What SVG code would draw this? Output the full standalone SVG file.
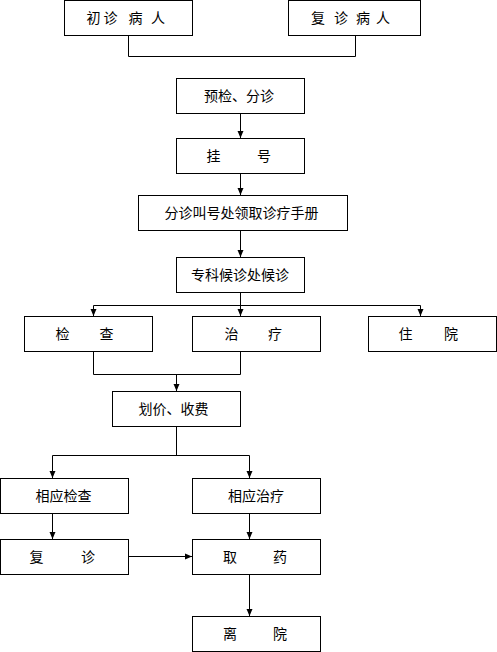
<svg xmlns="http://www.w3.org/2000/svg" width="497" height="652" viewBox="0 0 497 652">
<style>
.box{fill:#fff;stroke:#000;stroke-width:1}
.t{font-family:"Noto Sans CJK SC","Liberation Sans",sans-serif;font-size:14px;fill:#000;text-anchor:middle}
.c{fill:none;stroke:#000;stroke-width:1}
</style>
<defs>
<marker id="a" markerUnits="userSpaceOnUse" markerWidth="8" markerHeight="8" refX="7" refY="4" orient="auto">
<path d="M0,1 L7,4 L0,7 Z" fill="#000"/>
</marker>
</defs>
<rect width="497" height="652" fill="#fff"/>
<g id="connectors">
<path class="c" d="M128.5 35.5 V56.5 H355.5 V35.5"/>
<path class="c" d="M240.5 113.5 V138" marker-end="url(#a)"/>
<path class="c" d="M240.5 173.5 V195" marker-end="url(#a)"/>
<path class="c" d="M240.5 230.5 V257" marker-end="url(#a)"/>
<path class="c" d="M240.5 292.5 V305.5 M93.5 305.5 H420.5"/>
<path class="c" d="M93.5 305.5 V316" marker-end="url(#a)"/>
<path class="c" d="M240.5 305.5 V316" marker-end="url(#a)"/>
<path class="c" d="M420.5 305.5 V316" marker-end="url(#a)"/>
<path class="c" d="M93.5 351.5 V374.5 H240.5 V351.5"/>
<path class="c" d="M176.5 374.5 V391" marker-end="url(#a)"/>
<path class="c" d="M176.5 426.5 V455.5 M52.5 455.5 H249.5"/>
<path class="c" d="M52.5 455.5 V478" marker-end="url(#a)"/>
<path class="c" d="M249.5 455.5 V478" marker-end="url(#a)"/>
<path class="c" d="M52.5 513.5 V539" marker-end="url(#a)"/>
<path class="c" d="M249.5 513.5 V539" marker-end="url(#a)"/>
<path class="c" d="M128.5 556.5 H192" marker-end="url(#a)"/>
<path class="c" d="M249.5 574.5 V616" marker-end="url(#a)"/>
</g>
<g id="n1"><rect class="box" x="64.5" y="0.5" width="128" height="35"/><text class="t" y="22.5"><tspan x="95">初</tspan> <tspan x="112">诊</tspan> <tspan x="137">病</tspan> <tspan x="158">人</tspan></text></g>
<g id="n2"><rect class="box" x="288.5" y="0.5" width="132" height="35"/><text class="t" y="22.5"><tspan x="319.5">复</tspan> <tspan x="342.5">诊</tspan> <tspan x="364.5">病</tspan> <tspan x="383">人</tspan></text></g>
<g id="n3"><rect class="box" x="176.5" y="78.5" width="128" height="35"/><text class="t" x="239" y="101">预检、分诊</text></g>
<g id="n4"><rect class="box" x="176.5" y="138.5" width="128" height="35"/><text class="t" y="161"><tspan x="215">挂</tspan> <tspan x="264">号</tspan></text></g>
<g id="n5"><rect class="box" x="138.5" y="195.5" width="209" height="35"/><text class="t" x="241.5" y="218">分诊叫号处领取诊疗手册</text></g>
<g id="n6"><rect class="box" x="176.5" y="257.5" width="128" height="35"/><text class="t" x="240" y="280">专科候诊处候诊</text></g>
<g id="n7"><rect class="box" x="24.5" y="316.5" width="128" height="35"/><text class="t" y="339"><tspan x="64">检</tspan> <tspan x="106.5">查</tspan></text></g>
<g id="n8"><rect class="box" x="192.5" y="316.5" width="128" height="35"/><text class="t" y="339"><tspan x="233">治</tspan> <tspan x="275">疗</tspan></text></g>
<g id="n9"><rect class="box" x="368.5" y="316.5" width="128" height="35"/><text class="t" y="339"><tspan x="407">住</tspan> <tspan x="451">院</tspan></text></g>
<g id="n10"><rect class="box" x="112.5" y="391.5" width="128" height="35"/><text class="t" x="173.5" y="414">划价、收费</text></g>
<g id="n11"><rect class="box" x="0.5" y="478.5" width="128" height="35"/><text class="t" x="63.5" y="501">相应检查</text></g>
<g id="n12"><rect class="box" x="192.5" y="478.5" width="128" height="35"/><text class="t" x="256" y="501">相应治疗</text></g>
<g id="n13"><rect class="box" x="0.5" y="539.5" width="128" height="35"/><text class="t" y="562"><tspan x="38">复</tspan> <tspan x="88">诊</tspan></text></g>
<g id="n14"><rect class="box" x="192.5" y="539.5" width="128" height="35"/><text class="t" y="562"><tspan x="231.5">取</tspan> <tspan x="280">药</tspan></text></g>
<g id="n15"><rect class="box" x="192.5" y="616.5" width="128" height="35"/><text class="t" y="639"><tspan x="231.5">离</tspan> <tspan x="280">院</tspan></text></g>
</svg>
